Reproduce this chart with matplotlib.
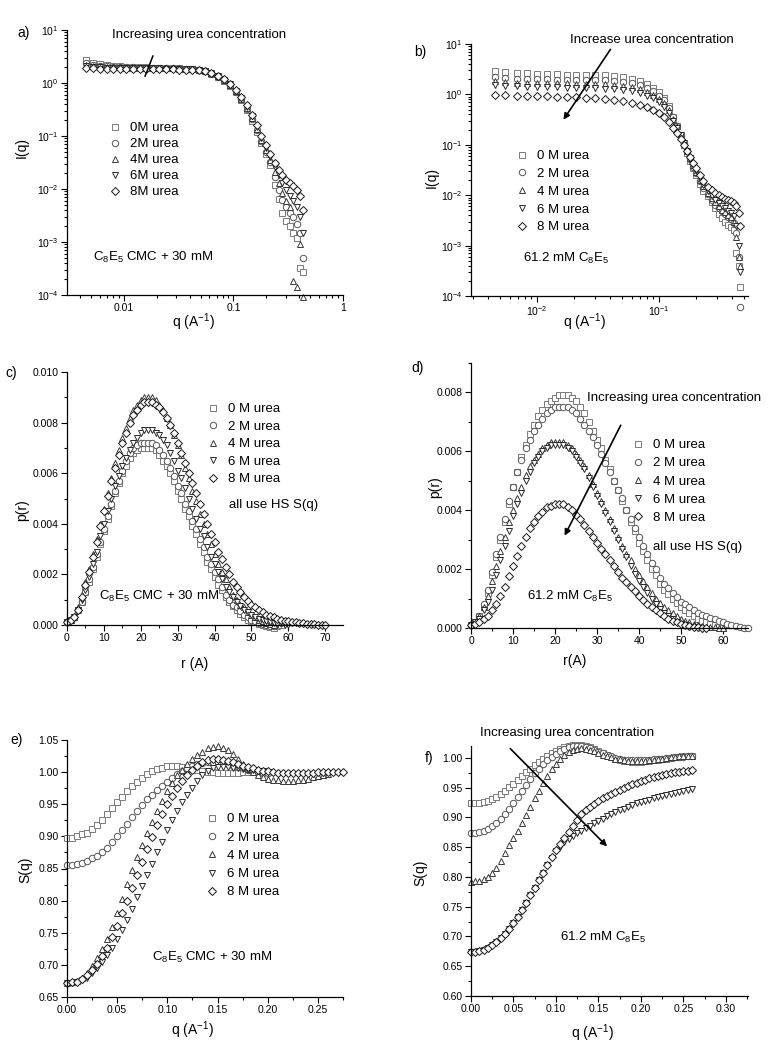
import numpy as np
import matplotlib
matplotlib.use('Agg')
import matplotlib.pyplot as plt
from matplotlib import ticker
from matplotlib.lines import Line2D

plt.rcParams['font.family'] = ['Liberation Sans', 'DejaVu Sans']
plt.rcParams['mathtext.fontset'] = 'custom'
plt.rcParams['mathtext.rm'] = 'Liberation Sans'
plt.rcParams['mathtext.it'] = 'Liberation Sans:italic'
plt.rcParams['mathtext.bf'] = 'Liberation Sans:bold'

# ---------------- data ----------------
urea_labels_a = ['0M urea', '2M urea', '4M urea', '6M urea', '8M urea']
urea_labels = ['0 M urea', '2 M urea', '4 M urea', '6 M urea', '8 M urea']

# a) I(q), C8E5 CMC + 30 mM
q_a = [0.0045, 0.0052, 0.006, 0.007, 0.008, 0.0092, 0.0105, 0.012, 0.014, 0.016,
       0.0185, 0.021, 0.024, 0.028, 0.032, 0.037, 0.042, 0.048, 0.055, 0.063,
       0.072, 0.082, 0.093, 0.105, 0.118, 0.132, 0.147, 0.163, 0.18, 0.198,
       0.217, 0.237, 0.258, 0.28, 0.303, 0.327, 0.352, 0.378, 0.405, 0.43]
I_a_0M = [2.7, 2.4, 2.25, 2.15, 2.1, 2.05, 2.02, 2.0, 1.98, 1.97,
          1.96, 1.95, 1.94, 1.92, 1.9, 1.87, 1.84, 1.78, 1.67, 1.5,
          1.31, 1.1, 0.89, 0.67, 0.47, 0.31, 0.195, 0.12, 0.074, 0.045,
          0.028, 0.012, 0.0065, 0.0035, 0.0025, 0.002, 0.0015, 0.0012, 0.00032, 0.00027]
I_a_2M = [2.4, 2.2, 2.1, 2.05, 2.02, 2.0, 1.98, 1.97, 1.96, 1.95,
          1.94, 1.93, 1.92, 1.91, 1.89, 1.86, 1.83, 1.78, 1.67, 1.51,
          1.32, 1.12, 0.91, 0.69, 0.49, 0.33, 0.21, 0.13, 0.08, 0.05,
          0.032, 0.017, 0.0095, 0.0062, 0.0045, 0.0035, 0.003, 0.0022, 0.0015, 0.00049]
I_a_4M = [2.2, 2.1, 2.05, 2.0, 1.98, 1.97, 1.96, 1.95, 1.94, 1.93,
          1.92, 1.91, 1.9, 1.89, 1.87, 1.85, 1.82, 1.77, 1.67, 1.52,
          1.33, 1.13, 0.92, 0.7, 0.5, 0.34, 0.22, 0.135, 0.085, 0.054,
          0.035, 0.021, 0.013, 0.0085, 0.006, 0.0045, 0.00018, 0.00014, 0.0009, 0.00009]
I_a_6M = [2.05, 2.0, 1.97, 1.95, 1.94, 1.93, 1.92, 1.91, 1.9, 1.9,
          1.89, 1.88, 1.87, 1.86, 1.85, 1.83, 1.8, 1.76, 1.67, 1.53,
          1.35, 1.15, 0.94, 0.72, 0.52, 0.36, 0.235, 0.145, 0.092, 0.06,
          0.04, 0.026, 0.018, 0.013, 0.0095, 0.0075, 0.006, 0.0045, 0.003, 0.0015]
I_a_8M = [1.9, 1.88, 1.86, 1.85, 1.84, 1.84, 1.83, 1.83, 1.82, 1.82,
          1.81, 1.81, 1.8, 1.8, 1.79, 1.78, 1.76, 1.73, 1.66, 1.54,
          1.37, 1.17, 0.96, 0.75, 0.55, 0.38, 0.25, 0.16, 0.1, 0.067,
          0.045, 0.031, 0.023, 0.018, 0.015, 0.013, 0.0115, 0.0095, 0.0075, 0.004]

# b) I(q), 61.2 mM C8E5
q_b = [0.0045, 0.0055, 0.0068, 0.0083, 0.01, 0.012, 0.0145, 0.0175, 0.021, 0.025,
       0.03, 0.036, 0.043, 0.051, 0.06, 0.07, 0.08, 0.09, 0.1, 0.11,
       0.12, 0.13, 0.14, 0.15, 0.16, 0.17, 0.18, 0.19, 0.2, 0.215,
       0.23, 0.25, 0.27, 0.29, 0.31, 0.33, 0.35, 0.37, 0.39, 0.41,
       0.43, 0.45, 0.465]
I_b_0M = [2.9, 2.75, 2.65, 2.6, 2.55, 2.52, 2.5, 2.48, 2.46, 2.44,
          2.42, 2.38, 2.32, 2.22, 2.05, 1.85, 1.62, 1.35, 1.1, 0.86,
          0.6, 0.36, 0.24, 0.15, 0.1, 0.068, 0.047, 0.034, 0.025, 0.017,
          0.012, 0.0095, 0.0072, 0.0055, 0.0042, 0.0035, 0.003, 0.0026, 0.0023, 0.002,
          0.0007, 0.0004, 0.00015]
I_b_2M = [2.2, 2.1, 2.05, 2.02, 2.0, 1.98, 1.97, 1.96, 1.95, 1.94,
          1.92, 1.89, 1.85, 1.78, 1.67, 1.52, 1.35, 1.15, 0.95, 0.76,
          0.54, 0.35, 0.24, 0.16, 0.11, 0.075, 0.052, 0.037, 0.027, 0.019,
          0.014, 0.0105, 0.008, 0.0065, 0.0055, 0.0048, 0.0042, 0.0037, 0.0033, 0.0028,
          0.0018, 0.0006, 0.00006]
I_b_4M = [1.85, 1.78, 1.72, 1.7, 1.68, 1.67, 1.66, 1.65, 1.64, 1.63,
          1.61, 1.58, 1.54, 1.48, 1.39, 1.27, 1.13, 0.98, 0.82, 0.66,
          0.48, 0.33, 0.235, 0.16, 0.11, 0.077, 0.054, 0.039, 0.029, 0.02,
          0.015, 0.011, 0.0088, 0.0072, 0.006, 0.0052, 0.0046, 0.0041, 0.0037, 0.003,
          0.0015, 0.0006, 0.0004]
I_b_6M = [1.55, 1.48, 1.44, 1.42, 1.4, 1.39, 1.38, 1.37, 1.36, 1.35,
          1.33, 1.3, 1.27, 1.22, 1.15, 1.06, 0.95, 0.83, 0.7, 0.57,
          0.42, 0.3, 0.22, 0.155, 0.108, 0.077, 0.055, 0.04, 0.03, 0.022,
          0.016, 0.012, 0.0098, 0.0082, 0.007, 0.0062, 0.0055, 0.0049, 0.0044, 0.0038,
          0.0025, 0.001, 0.0003]
I_b_8M = [0.98, 0.96, 0.94, 0.93, 0.92, 0.91, 0.9, 0.89, 0.88, 0.86,
          0.84, 0.81, 0.77, 0.73, 0.68, 0.63, 0.56, 0.5, 0.42, 0.35,
          0.28, 0.22, 0.17, 0.13, 0.1, 0.075, 0.057, 0.044, 0.034, 0.025,
          0.019, 0.0145, 0.0125, 0.011, 0.01, 0.0092, 0.0085, 0.008, 0.0075, 0.007,
          0.006, 0.0045, 0.0025]

# c) p(r), C8E5 CMC + 30 mM
r_c = [0, 1, 2, 3, 4, 5, 6, 7, 8, 9, 10, 11, 12, 13, 14, 15, 16, 17, 18, 19,
       20, 21, 22, 23, 24, 25, 26, 27, 28, 29, 30, 31, 32, 33, 34, 35, 36, 37, 38, 39,
       40, 41, 42, 43, 44, 45, 46, 47, 48, 49, 50, 51, 52, 53, 54, 55, 56, 57, 58, 59,
       60, 61, 62, 63, 64, 65, 66, 67, 68, 69, 70]
p_c_0M = [0.0001, 0.0002, 0.0003, 0.0006, 0.0009, 0.0013, 0.0017, 0.0022, 0.0027, 0.0032,
          0.0037, 0.0042, 0.0047, 0.0052, 0.0056, 0.0060, 0.0063, 0.0066, 0.0068, 0.0069,
          0.0070, 0.0070, 0.0070, 0.0070, 0.0069, 0.0067, 0.0065, 0.0063, 0.0060, 0.0057,
          0.0053, 0.0050, 0.0046, 0.0043, 0.0039, 0.0036, 0.0032, 0.0029, 0.0025, 0.0022,
          0.0019, 0.0016, 0.0014, 0.0011, 0.0009, 0.00075, 0.0006, 0.00045, 0.0003, 0.0002,
          0.00015, 0.0001, 0.00005, 0.0, -0.00005, -0.00008, -0.0001, -0.00005, 0.0]
p_c_2M = [0.0001, 0.0002, 0.0003, 0.0006, 0.0009, 0.0013, 0.0018, 0.0023, 0.0028, 0.0033,
          0.0038, 0.0043, 0.0048, 0.0053, 0.0057, 0.0061, 0.0065, 0.0068, 0.0070, 0.0071,
          0.0072, 0.0072, 0.0072, 0.0072, 0.0071, 0.0069, 0.0067, 0.0065, 0.0062, 0.0059,
          0.0055, 0.0052, 0.0048, 0.0045, 0.0041, 0.0038, 0.0034, 0.0031, 0.0027, 0.0024,
          0.0021, 0.0018, 0.0015, 0.0012, 0.0010, 0.0008, 0.0007, 0.00055, 0.0004, 0.0003,
          0.0002, 0.00014, 0.00008, 0.00004, 0.0, -0.00003, -0.00005]
p_c_4M = [0.0001, 0.0002, 0.0003, 0.0007, 0.0012, 0.0017, 0.0022, 0.0028, 0.0034, 0.0040,
          0.0046, 0.0052, 0.0058, 0.0064, 0.0069, 0.0074, 0.0078, 0.0082, 0.0085, 0.0087,
          0.0089, 0.0090, 0.0090, 0.0090, 0.0089, 0.0087, 0.0085, 0.0082, 0.0079, 0.0075,
          0.0071, 0.0067, 0.0062, 0.0058, 0.0053, 0.0049, 0.0044, 0.0040, 0.0036, 0.0032,
          0.0028, 0.0024, 0.0021, 0.0018, 0.0015, 0.0012, 0.0010, 0.0008, 0.0007, 0.0005,
          0.0004, 0.0003, 0.0002, 0.00014, 0.00008, 0.00004, 0.0]
p_c_6M = [0.0001, 0.0002, 0.0003, 0.0006, 0.0010, 0.0014, 0.0019, 0.0024, 0.0029, 0.0035,
          0.0040, 0.0045, 0.0050, 0.0055, 0.0059, 0.0063, 0.0066, 0.0069, 0.0072, 0.0074,
          0.0076, 0.0077, 0.0077, 0.0077, 0.0076, 0.0075, 0.0073, 0.0071, 0.0068, 0.0065,
          0.0061, 0.0058, 0.0054, 0.0050, 0.0046, 0.0042, 0.0038, 0.0035, 0.0031, 0.0027,
          0.0024, 0.0021, 0.0018, 0.0015, 0.0013, 0.0011, 0.0009, 0.00075, 0.0006, 0.0005,
          0.0004, 0.00032, 0.00025, 0.0002, 0.00015, 0.00011, 0.00008, 0.00005, 0.00003,
          0.00001, 0.0]
p_c_8M = [0.0001, 0.0002, 0.0003, 0.0006, 0.0011, 0.0016, 0.0021, 0.0027, 0.0033, 0.0039,
          0.0045, 0.0051, 0.0057, 0.0062, 0.0067, 0.0072, 0.0076, 0.0080, 0.0083, 0.0085,
          0.0087, 0.0088, 0.0088, 0.0088, 0.0087, 0.0086, 0.0084, 0.0082, 0.0079, 0.0076,
          0.0072, 0.0068, 0.0064, 0.0060, 0.0056, 0.0052, 0.0048, 0.0044, 0.0040, 0.0036,
          0.0033, 0.0029, 0.0026, 0.0023, 0.0020, 0.0017, 0.0015, 0.0013, 0.0011, 0.00095,
          0.0008, 0.0007, 0.0006, 0.0005, 0.0004, 0.00035, 0.0003, 0.00025, 0.0002, 0.00017,
          0.00015, 0.00012, 0.0001, 0.00008, 0.00006, 0.00005, 0.00003, 0.00002, 0.00001,
          0.000005, 0.0]

# d) p(r), 61.2 mM C8E5
r_d = [0, 1, 2, 3, 4, 5, 6, 7, 8, 9, 10, 11, 12, 13, 14, 15, 16, 17, 18, 19,
       20, 21, 22, 23, 24, 25, 26, 27, 28, 29, 30, 31, 32, 33, 34, 35, 36, 37, 38, 39,
       40, 41, 42, 43, 44, 45, 46, 47, 48, 49, 50, 51, 52, 53, 54, 55, 56, 57, 58, 59,
       60, 61, 62, 63, 64, 65, 66]
p_d_0M = [0.0001, 0.0002, 0.0004, 0.0007, 0.0012, 0.0018, 0.0024, 0.0030, 0.0036, 0.0042,
          0.0048, 0.0053, 0.0058, 0.0062, 0.0066, 0.0069, 0.0072, 0.0074, 0.0076, 0.0077,
          0.0078, 0.0079, 0.0079, 0.0079, 0.0078, 0.0077, 0.0075, 0.0073, 0.0070, 0.0067,
          0.0064, 0.0061, 0.0057, 0.0054, 0.0050, 0.0047, 0.0043, 0.0040, 0.0036, 0.0033,
          0.0029, 0.0026, 0.0023, 0.0020, 0.0018, 0.0015, 0.0013, 0.00115, 0.0010, 0.00085,
          0.0007, 0.0006, 0.0005, 0.0004, 0.0003, 0.00025, 0.0002, 0.00015, 0.0001, 0.00005,
          0.0]
p_d_2M = [0.0001, 0.0002, 0.0004, 0.0008, 0.0013, 0.0019, 0.0025, 0.0031, 0.0037, 0.0043,
          0.0048, 0.0053, 0.0057, 0.0061, 0.0064, 0.0067, 0.0069, 0.0071, 0.0073, 0.0074,
          0.0075, 0.0075, 0.0075, 0.0075, 0.0074, 0.0073, 0.0071, 0.0069, 0.0067, 0.0065,
          0.0062, 0.0059, 0.0056, 0.0053, 0.0050, 0.0047, 0.0044, 0.0040, 0.0037, 0.0034,
          0.0031, 0.0028, 0.0025, 0.0022, 0.0020, 0.0017, 0.0015, 0.00135, 0.0012, 0.00105,
          0.0009, 0.0008, 0.0007, 0.0006, 0.0005, 0.00045, 0.0004, 0.00035, 0.0003, 0.00025,
          0.0002, 0.00015, 0.0001, 0.00006, 0.00003, 0.00001, 0.0]
p_d_4M = [0.0001, 0.0002, 0.0004, 0.0007, 0.0011, 0.0016, 0.0021, 0.0026, 0.0031, 0.0036,
          0.0040, 0.0044, 0.0048, 0.0052, 0.0055, 0.0057, 0.0059, 0.0061, 0.0062, 0.0063,
          0.0063, 0.0063, 0.0063, 0.0062, 0.0061, 0.0059, 0.0057, 0.0055, 0.0052, 0.0049,
          0.0046, 0.0043, 0.0040, 0.0037, 0.0034, 0.0031, 0.0028, 0.0025, 0.0023, 0.0020,
          0.0018, 0.0016, 0.0014, 0.0012, 0.0010, 0.00085, 0.0007, 0.0006, 0.0005, 0.0004,
          0.0003, 0.00025, 0.0002, 0.00015, 0.0001, 0.00008, 0.00005, 0.00003, 0.00002,
          0.00001, 0.0]
p_d_6M = [0.0001, 0.0002, 0.0003, 0.0006, 0.0009, 0.0013, 0.0018, 0.0023, 0.0028, 0.0033,
          0.0038, 0.0042, 0.0046, 0.0050, 0.0053, 0.0056, 0.0058, 0.0060, 0.0061, 0.0062,
          0.0062, 0.0062, 0.0062, 0.0061, 0.0060, 0.0058, 0.0056, 0.0054, 0.0051, 0.0048,
          0.0045, 0.0042, 0.0039, 0.0036, 0.0033, 0.0030, 0.0027, 0.0024, 0.0021, 0.00185,
          0.0016, 0.0014, 0.0012, 0.0010, 0.0008, 0.00065, 0.0005, 0.0004, 0.0003, 0.00022,
          0.00015, 0.0001, 0.00005, 0.00002, 0.0, -0.00003, -0.00005]
p_d_8M = [0.0001, 0.00015, 0.0002, 0.0003, 0.0004, 0.0006, 0.0008, 0.0011, 0.0014, 0.00175,
          0.0021, 0.00245, 0.0028, 0.0031, 0.0034, 0.0036, 0.0038, 0.00395, 0.0041, 0.00415,
          0.0042, 0.0042, 0.0042, 0.0041, 0.0040, 0.00385, 0.0037, 0.0035, 0.0033, 0.0031,
          0.0029, 0.0027, 0.0025, 0.0023, 0.0021, 0.0019, 0.0017, 0.00155, 0.0014, 0.00125,
          0.0011, 0.00095, 0.0008, 0.0007, 0.0006, 0.0005, 0.0004, 0.00032, 0.00025, 0.0002,
          0.00015, 0.00011, 0.00008, 0.00005, 0.00002, 0.00001, 0.0]

# e) S(q), C8E5 CMC + 30 mM
q_e = [0.0, 0.005, 0.01, 0.015, 0.02, 0.025, 0.03, 0.035, 0.04, 0.045,
       0.05, 0.055, 0.06, 0.065, 0.07, 0.075, 0.08, 0.085, 0.09, 0.095,
       0.1, 0.105, 0.11, 0.115, 0.12, 0.125, 0.13, 0.135, 0.14, 0.145,
       0.15, 0.155, 0.16, 0.165, 0.17, 0.175, 0.18, 0.185, 0.19, 0.195,
       0.2, 0.205, 0.21, 0.215, 0.22, 0.225, 0.23, 0.235, 0.24, 0.245,
       0.25, 0.255, 0.26, 0.265, 0.27, 0.275]
S_e_0M = [0.898, 0.898, 0.9, 0.903, 0.906, 0.911, 0.917, 0.926, 0.935, 0.944,
          0.953, 0.962, 0.97, 0.978, 0.985, 0.991, 0.997, 1.001, 1.005, 1.007,
          1.009, 1.0095, 1.009, 1.008, 1.007, 1.005, 1.003, 1.001, 1.0, 0.9995,
          0.999, 0.999, 0.999, 0.999, 0.999, 0.9995, 1.0, 1.0, 1.0, 1.0, 1.0]
S_e_2M = [0.855, 0.856, 0.857, 0.859, 0.862, 0.866, 0.87, 0.876, 0.882, 0.891,
          0.9, 0.91, 0.92, 0.93, 0.94, 0.949, 0.958, 0.965, 0.972, 0.979,
          0.985, 0.991, 0.997, 1.002, 1.006, 1.009, 1.012, 1.014, 1.015, 1.015,
          1.015, 1.014, 1.012, 1.01, 1.008, 1.006, 1.004, 1.002, 1.0, 0.999, 0.998]
S_e_4M = [0.672, 0.673, 0.675, 0.68, 0.688, 0.698, 0.71, 0.724, 0.74, 0.759,
          0.78, 0.803, 0.826, 0.847, 0.868, 0.887, 0.905, 0.923, 0.94, 0.955,
          0.97, 0.983, 0.995, 1.004, 1.013, 1.02, 1.027, 1.032, 1.037, 1.039,
          1.04, 1.038, 1.035, 1.028, 1.02, 1.012, 1.005, 1.0, 0.996, 0.993,
          0.99, 0.988, 0.987, 0.986, 0.986, 0.986, 0.987, 0.988, 0.99, 0.992,
          0.994, 0.996, 0.997]
S_e_6M = [0.672, 0.672, 0.673, 0.676, 0.68, 0.687, 0.695, 0.704, 0.715, 0.727,
          0.74, 0.755, 0.77, 0.787, 0.805, 0.822, 0.84, 0.857, 0.875, 0.892,
          0.91, 0.925, 0.94, 0.953, 0.965, 0.976, 0.986, 0.995, 1.002, 1.006,
          1.008, 1.008, 1.008, 1.007, 1.006, 1.005, 1.004, 1.003, 1.002, 1.001, 1.0]
S_e_8M = [0.672, 0.673, 0.674, 0.678, 0.684, 0.692, 0.702, 0.714, 0.727, 0.743,
          0.76, 0.78, 0.8, 0.82, 0.84, 0.86, 0.88, 0.899, 0.918, 0.935,
          0.95, 0.963, 0.975, 0.986, 0.995, 1.003, 1.01, 1.015, 1.019, 1.02,
          1.02, 1.019, 1.018, 1.016, 1.013, 1.01, 1.008, 1.006, 1.004, 1.002,
          1.001, 1.0, 0.999, 0.998, 0.998, 0.998, 0.998, 0.998, 0.999, 0.999,
          1.0, 1.0, 1.0, 1.0, 1.0, 1.0]

# f) S(q), 61.2 mM C8E5
q_f = [0.0, 0.005, 0.01, 0.015, 0.02, 0.025, 0.03, 0.035, 0.04, 0.045,
       0.05, 0.055, 0.06, 0.065, 0.07, 0.075, 0.08, 0.085, 0.09, 0.095,
       0.1, 0.105, 0.11, 0.115, 0.12, 0.125, 0.13, 0.135, 0.14, 0.145,
       0.15, 0.155, 0.16, 0.165, 0.17, 0.175, 0.18, 0.185, 0.19, 0.195,
       0.2, 0.205, 0.21, 0.215, 0.22, 0.225, 0.23, 0.235, 0.24, 0.245,
       0.25, 0.255, 0.26]
S_f_0M = [0.924, 0.924, 0.925, 0.926, 0.928, 0.931, 0.935, 0.94, 0.945, 0.951,
          0.957, 0.963, 0.97, 0.976, 0.982, 0.988, 0.993, 0.998, 1.003, 1.008,
          1.012, 1.015, 1.018, 1.02, 1.022, 1.0225, 1.022, 1.02, 1.018, 1.015,
          1.012, 1.008, 1.005, 1.002, 0.999, 0.997, 0.995, 0.994, 0.993, 0.993,
          0.993, 0.994, 0.995, 0.996, 0.997, 0.998, 0.999, 1.0, 1.001, 1.002,
          1.003, 1.0035, 1.004]
S_f_2M = [0.874, 0.874, 0.875, 0.877, 0.88, 0.885, 0.89, 0.897, 0.905, 0.915,
          0.925, 0.935, 0.945, 0.955, 0.965, 0.974, 0.982, 0.989, 0.996, 1.002,
          1.007, 1.011, 1.015, 1.018, 1.02, 1.0205, 1.02, 1.018, 1.016, 1.013,
          1.01, 1.0075, 1.005, 1.0025, 1.0, 0.9985, 0.997, 0.9965, 0.996, 0.996,
          0.996, 0.9965, 0.997, 0.9975, 0.998, 0.999, 1.0, 1.0005, 1.001, 1.0015,
          1.002, 1.0025, 1.003]
S_f_4M = [0.792, 0.793, 0.794, 0.796, 0.8, 0.806, 0.815, 0.827, 0.84, 0.853,
          0.865, 0.877, 0.89, 0.904, 0.918, 0.932, 0.945, 0.958, 0.97, 0.981,
          0.99, 0.998, 1.005, 1.01, 1.013, 1.015, 1.016, 1.015, 1.013, 1.011,
          1.008, 1.0055, 1.003, 1.001, 0.999, 0.9975, 0.996, 0.9955, 0.995, 0.995,
          0.995, 0.9955, 0.996, 0.997, 0.998, 0.999, 1.0, 1.001, 1.002, 1.0025,
          1.003, 1.003, 1.003]
S_f_6M = [0.674, 0.674, 0.675, 0.677, 0.68, 0.685, 0.69, 0.697, 0.705, 0.713,
          0.722, 0.733, 0.745, 0.757, 0.77, 0.782, 0.795, 0.807, 0.82, 0.832,
          0.843, 0.851, 0.858, 0.864, 0.869, 0.874, 0.878, 0.882, 0.886, 0.89,
          0.894, 0.898, 0.902, 0.9055, 0.909, 0.912, 0.915, 0.918, 0.921, 0.9235,
          0.926, 0.928, 0.93, 0.932, 0.934, 0.936, 0.938, 0.9395, 0.941, 0.9425,
          0.944, 0.9455, 0.947]
S_f_8M = [0.674, 0.674, 0.675, 0.677, 0.68, 0.685, 0.69, 0.697, 0.705, 0.713,
          0.722, 0.733, 0.745, 0.757, 0.77, 0.782, 0.795, 0.807, 0.82, 0.833,
          0.845, 0.856, 0.866, 0.876, 0.886, 0.896, 0.905, 0.912, 0.918, 0.923,
          0.928, 0.932, 0.936, 0.9395, 0.943, 0.9465, 0.95, 0.953, 0.956, 0.9585,
          0.961, 0.9635, 0.966, 0.968, 0.97, 0.9715, 0.973, 0.9745, 0.976, 0.977,
          0.978, 0.9785, 0.979]

markers = ['s', 'o', '^', 'v', 'D']
msizes = [4.2, 4.6, 4.6, 4.6, 4.0]
colors = ['#7a7a7a', '#555555', '#383838', '#2a2a2a', '#1a1a1a']

# ---------------- figure ----------------
W, H = 775, 1050
fig = plt.figure(figsize=(W / 100, H / 100), dpi=100)


def box(l, t, r, b):
    return [l / W, 1 - b / H, (r - l) / W, (b - t) / H]


def ftext(x, y, s, size=9.5, ha='left', va='center', rot=0):
    fig.text(x / W, 1 - y / H, s, fontsize=size, ha=ha, va=va, rotation=rot)


def style(ax):
    for s in ['top', 'right']:
        ax.spines[s].set_visible(False)
    for s in ['left', 'bottom']:
        ax.spines[s].set_linewidth(0.9)
    ax.tick_params(which='both', direction='out', labelsize=7.5, width=0.8, pad=2)
    ax.tick_params(which='major', length=4)
    ax.tick_params(which='minor', length=2)


def draw(ax, x, series):
    for ys, m, ms, c in zip(series, markers, msizes, colors):
        ax.plot(x[:len(ys)], ys, ls='none', marker=m, ms=ms, mfc='white',
                mec=c, mew=0.7, clip_on=False)


def legend(ax, labels, x, y, spacing):
    hs = [Line2D([], [], ls='none', marker=m, ms=ms, mfc='white', mec=c, mew=0.7)
          for m, ms, c in zip(markers, msizes, colors)]
    ax.legend(hs, labels, loc='upper left', bbox_to_anchor=(x / W, 1 - y / H),
              bbox_transform=fig.transFigure, frameon=False, fontsize=9.5,
              handlelength=1.0, handletextpad=0.7, labelspacing=spacing,
              borderpad=0, borderaxespad=0)


arrow = dict(arrowstyle='-|>', lw=1.2, color='black', mutation_scale=9)

# a)
ax = fig.add_axes(box(67, 30, 343, 295))
style(ax)
draw(ax, q_a, [I_a_0M, I_a_2M, I_a_4M, I_a_6M, I_a_8M])
ax.set_xscale('log')
ax.set_yscale('log')
ax.set_xlim(0.00302, 1.0)
ax.set_ylim(1e-4, 10)
ax.xaxis.set_major_formatter(ticker.FuncFormatter(lambda v, p: '%g' % v))
ax.xaxis.set_minor_formatter(ticker.NullFormatter())
ax.annotate('', xy=(0.01524, 1.19), xytext=(0.0188, 3.65),
            arrowprops=dict(arrowstyle='-', lw=1.1, color='black'), annotation_clip=False)
legend(ax, urea_labels_a, 108, 122, 0.29)
ftext(112, 35, 'Increasing urea concentration')
ftext(93, 257, r'C$_8$E$_5$ CMC + 30 mM')
ftext(24, 33, 'a)', size=10, ha='center')
ftext(22, 147, 'I(q)', size=10, ha='center', rot=90)
ftext(193, 322, r'q (A$^{-1}$)', size=10, ha='center')

# b)
ax = fig.add_axes(box(471, 44, 748, 296))
style(ax)
draw(ax, q_b, [I_b_0M, I_b_2M, I_b_4M, I_b_6M, I_b_8M])
ax.set_xscale('log')
ax.set_yscale('log')
ax.set_xlim(0.00288, 0.536)
ax.set_ylim(1e-4, 10)
ax.xaxis.set_minor_formatter(ticker.NullFormatter())
ax.annotate('', xy=(0.016, 0.283), xytext=(0.0412, 8.7), arrowprops=arrow,
            annotation_clip=False)
legend(ax, urea_labels, 515, 150, 0.42)
ftext(570, 40, 'Increase urea concentration')
ftext(523, 258, r'61.2 mM C$_8$E$_5$')
ftext(420, 52, 'b)', size=10, ha='center')
ftext(432, 177, 'I(q)', size=10, ha='center', rot=90)
ftext(584, 322, r'q (A$^{-1}$)', size=10, ha='center')

# c)
ax = fig.add_axes(box(67, 372, 343, 625))
style(ax)
draw(ax, r_c, [p_c_0M, p_c_2M, p_c_4M, p_c_6M, p_c_8M])
ax.set_xlim(0, 74.8)
ax.set_ylim(0, 0.010)
ax.set_xticks([0, 10, 20, 30, 40, 50, 60, 70])
ax.set_yticks([0, 0.002, 0.004, 0.006, 0.008, 0.010])
ax.yaxis.set_major_formatter(ticker.FormatStrFormatter('%.3f'))
ax.xaxis.set_minor_locator(ticker.AutoMinorLocator(2))
ax.yaxis.set_minor_locator(ticker.AutoMinorLocator(2))
legend(ax, urea_labels, 206, 403, 0.4)
ftext(229, 505, 'all use HS S(q)')
ftext(99, 596, r'C$_8$E$_5$ CMC + 30 mM')
ftext(11, 373, 'c)', size=10, ha='center')
ftext(22, 510, 'p(r)', size=10, ha='center', rot=90)
ftext(195, 664, 'r (A)', size=10, ha='center')

# d)
ax = fig.add_axes(box(471, 363, 748, 628))
style(ax)
draw(ax, r_d, [p_d_0M, p_d_2M, p_d_4M, p_d_6M, p_d_8M])
ax.set_xlim(0, 65.95)
ax.set_ylim(0, 0.009)
ax.set_xticks([0, 10, 20, 30, 40, 50, 60])
ax.set_yticks([0, 0.002, 0.004, 0.006, 0.008])
ax.yaxis.set_major_formatter(ticker.FormatStrFormatter('%.3f'))
ax.xaxis.set_minor_locator(ticker.AutoMinorLocator(2))
ax.yaxis.set_minor_locator(ticker.AutoMinorLocator(2))
ax.annotate('', xy=(21.98, 0.00305), xytext=(35.95, 0.00697), arrowprops=arrow,
            annotation_clip=False)
legend(ax, urea_labels, 631, 439, 0.45)
ftext(587, 398, 'Increasing urea concentration')
ftext(653, 547, 'all use HS S(q)')
ftext(527, 596, r'61.2 mM C$_8$E$_5$')
ftext(418, 368, 'd)', size=10, ha='center')
ftext(435, 487, 'p(r)', size=10, ha='center', rot=90)
ftext(575, 661, 'r(A)', size=10, ha='center')

# e)
ax = fig.add_axes(box(67, 740, 343, 997))
style(ax)
draw(ax, q_e, [S_e_0M, S_e_2M, S_e_4M, S_e_6M, S_e_8M])
ax.set_xlim(0, 0.275)
ax.set_ylim(0.65, 1.05)
ax.set_xticks([0, 0.05, 0.10, 0.15, 0.20, 0.25])
ax.set_yticks([0.65, 0.70, 0.75, 0.80, 0.85, 0.90, 0.95, 1.00, 1.05])
ax.xaxis.set_major_formatter(ticker.FormatStrFormatter('%.2f'))
ax.yaxis.set_major_formatter(ticker.FormatStrFormatter('%.2f'))
ax.xaxis.set_minor_locator(ticker.AutoMinorLocator(2))
ax.yaxis.set_minor_locator(ticker.AutoMinorLocator(2))
legend(ax, urea_labels, 205, 813, 0.46)
ftext(152, 957, r'C$_8$E$_5$ CMC + 30 mM')
ftext(17, 740, 'e)', size=10, ha='center')
ftext(25, 870, 'S(q)', size=10, ha='center', rot=90)
ftext(192, 1030, r'q (A$^{-1}$)', size=10, ha='center')

# f)
ax = fig.add_axes(box(471, 746, 748, 996))
style(ax)
draw(ax, q_f, [S_f_0M, S_f_2M, S_f_4M, S_f_6M, S_f_8M])
ax.set_xlim(0, 0.326)
ax.set_ylim(0.60, 1.02)
ax.set_xticks([0, 0.05, 0.10, 0.15, 0.20, 0.25, 0.30])
ax.set_yticks([0.60, 0.65, 0.70, 0.75, 0.80, 0.85, 0.90, 0.95, 1.00])
ax.xaxis.set_major_formatter(ticker.FormatStrFormatter('%.2f'))
ax.yaxis.set_major_formatter(ticker.FormatStrFormatter('%.2f'))
ax.xaxis.set_minor_locator(ticker.AutoMinorLocator(2))
ax.yaxis.set_minor_locator(ticker.AutoMinorLocator(2))
ax.annotate('', xy=(0.1624, 0.848), xytext=(0.0439, 1.019), arrowprops=arrow,
            annotation_clip=False)
ftext(480, 733, 'Increasing urea concentration')
ftext(560, 937, r'61.2 mM C$_8$E$_5$')
ftext(429, 758, 'f)', size=10, ha='center')
ftext(420, 873, 'S(q)', size=10, ha='center', rot=90)
ftext(592, 1033, r'q (A$^{-1}$)', size=10, ha='center')

fig.savefig('out.png', dpi=100)
